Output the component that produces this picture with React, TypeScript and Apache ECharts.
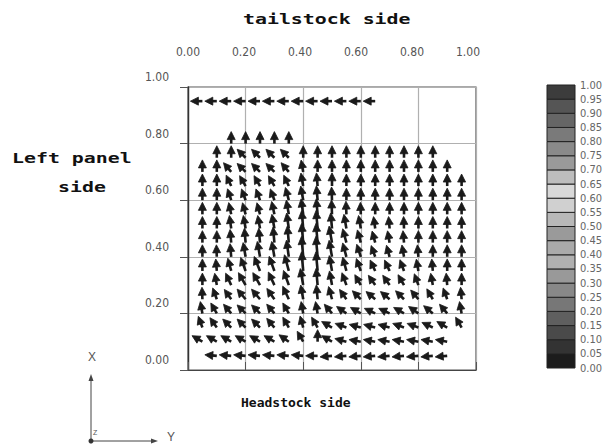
import React, { useEffect, useRef } from "react";
import * as echarts from "echarts";

// ---- data -----------------------------------------------------------
const colX = [0.05, 0.1, 0.15, 0.2, 0.25, 0.3, 0.35, 0.4, 0.45, 0.5, 0.55, 0.6, 0.65, 0.7, 0.75, 0.8, 0.85, 0.9, 0.95];
const rowY = [0.95, 0.8, 0.75, 0.7, 0.65, 0.6, 0.55, 0.5, 0.45, 0.4, 0.35, 0.3, 0.25, 0.2, 0.15, 0.1, 0.05];
const N = null;
// direction of each vector in degrees (0 = +Y to the right, 90 = +X upward)
const angleRows: (number | null)[][] = [
  [180, 180, 180, 180, 180, 180, 180, 180, 180, 180, 180, 180, 180, N, N, N, N, N, N],
  [N, N, 90, 90, 90, 90, 90, N, N, N, N, N, N, N, N, N, N, N, N],
  [N, 90, 90, 135, 135, 135, 135, 90, 90, 90, 90, 90, 90, 90, 90, 90, 90, N, N],
  [90, 90, 130, 135, 135, 135, 130, 100, 90, 90, 90, 90, 90, 90, 90, 90, 90, 90, N],
  [90, 90, 115, 120, 120, 120, 115, 100, 95, 90, 90, 90, 90, 90, 90, 90, 90, 90, 90],
  [90, 90, 108, 110, 110, 110, 105, 100, 95, 92, 90, 90, 90, 90, 90, 90, 90, 90, 90],
  [90, 90, 102, 105, 105, 102, 100, 98, 95, 92, 92, 92, 90, 90, 90, 90, 90, 90, 90],
  [90, 90, 98, 100, 100, 100, 98, 95, 95, 95, 100, 100, 98, 95, 92, 90, 90, 90, 90],
  [90, 90, 95, 95, 95, 95, 95, 95, 95, 100, 105, 105, 105, 100, 95, 90, 90, 90, 90],
  [90, 92, 95, 100, 100, 100, 98, 95, 95, 100, 105, 108, 110, 105, 100, 95, 90, 90, 90],
  [90, 95, 105, 110, 112, 110, 105, 95, 95, 100, 105, 110, 115, 115, 110, 100, 95, 90, 90],
  [90, 100, 115, 120, 120, 115, 110, 100, 95, 100, 110, 120, 125, 125, 120, 110, 100, 95, 90],
  [92, 110, 125, 130, 130, 125, 115, 100, 95, 105, 125, 135, 140, 140, 135, 130, 120, 110, 95],
  [100, 120, 130, 135, 135, 130, 120, 100, 100, 130, 145, 150, 155, 155, 150, 145, 140, 130, 100],
  [110, 125, 135, 135, 135, 130, 120, 105, 120, 150, 160, 165, 165, 165, 160, 160, 155, 150, 120],
  [150, 150, 150, 150, 150, 150, 145, 120, 90, 150, 165, 170, 170, 170, 170, 170, 170, 170, N],
  [N, 175, 175, 175, 175, 175, 175, 175, 180, 185, 185, 185, 185, 185, 185, 185, 185, 185, N],
];
// relative speed of each vector
const speedRows: number[][] = [
  [1, 1, 1, 1, 1, 1, 1, 1, 1, 1, 1, 1, 1, 1, 1, 1, 1, 1, 1],
  [1, 1, 1, 1, 1, 1, 1, 1, 1, 1, 1, 1, 1, 1, 1, 1, 1, 1, 1],
  [1, 1, 1, 1, 1, 1, 1, 1, 1, 1, 1, 1, 1, 1, 1, 1, 1, 1, 1],
  [1, 1, 1, 1, 1, 1, 1, 1, 1, 1, 1, 1, 1, 1, 1, 1, 1, 1, 1],
  [1, 1, 1, 1, 1, 1, 1, 1.1, 1.1, 1.1, 1, 1, 1, 1, 1, 1, 1, 1, 1],
  [1, 1, 1, 1, 1, 1, 1.1, 1.2, 1.2, 1.1, 1, 1, 1, 1, 1, 1, 1, 1, 1],
  [1, 1, 1, 1, 1, 1.1, 1.2, 1.3, 1.3, 1.2, 1.1, 1, 1, 1, 1, 1, 1, 1, 1],
  [1, 1, 1.1, 1.1, 1.1, 1.2, 1.3, 1.5, 1.5, 1.3, 1.2, 1.1, 1, 1, 1, 1, 1, 1, 1],
  [1, 1, 1.1, 1.2, 1.2, 1.3, 1.4, 1.6, 1.6, 1.4, 1.2, 1.1, 1, 1, 1, 1, 1, 1, 1],
  [1, 1, 1.1, 1.2, 1.3, 1.3, 1.4, 1.7, 1.7, 1.4, 1.2, 1.1, 1, 1, 1, 1, 1, 1, 1],
  [1, 1, 1.1, 1.2, 1.3, 1.3, 1.4, 1.6, 1.6, 1.3, 1.2, 1.1, 1, 1, 1, 1, 1, 1, 1],
  [1, 1, 1.1, 1.2, 1.2, 1.2, 1.3, 1.4, 1.4, 1.2, 1.1, 1, 1, 1, 1, 1, 1, 1, 1],
  [1, 1, 1, 1.1, 1.1, 1.1, 1.2, 1.2, 1.2, 1.1, 1, 1, 1, 1, 1, 1, 1, 1, 1],
  [1, 1, 1, 1, 1, 1, 1, 1, 1, 1, 1, 1, 1, 1, 1, 1, 1, 1, 1],
  [1, 1, 1, 1, 1, 1, 1, 1, 1, 1, 1, 1, 1, 1, 1, 1, 1, 1, 1],
  [1, 1, 1, 1, 1, 1, 1, 1, 1, 1, 1, 1, 1, 1, 1, 1, 1, 1, 1],
  [1, 1, 1, 1, 1, 1, 1, 1, 1, 1, 1, 1, 1, 1, 1, 1, 1, 1, 1],
];
const axisTicks = [0, 0.2, 0.4, 0.6, 0.8, 1.0];
const scaleValues = [0, 0.05, 0.1, 0.15, 0.2, 0.25, 0.3, 0.35, 0.4, 0.45, 0.5, 0.55, 0.6, 0.65, 0.7, 0.75, 0.8, 0.85, 0.9, 0.95, 1.0];
// colour of each band of the scale, from 0.00-0.05 up to 0.95-1.00
const scaleColors = [
  "#1c1c1c", "#333333", "#4a4a4a", "#5f5f5f", "#777777", "#888888", "#999999", "#b0b0b0", "#aaaaaa", "#9a9a9a",
  "#b8b8b8", "#d0d0d0", "#d8d8d8", "#bdbdbd", "#9a9a9a", "#8a8a8a", "#7a7a7a", "#666666", "#555555", "#3c3c3c",
];
const titleTop = "tailstock side";
const titleBottom = "Headstock side";
const titleLeft1 = "Left panel";
const titleLeft2 = "side";

const monoFont = "'DejaVu Sans Mono', 'Liberation Mono', monospace";
const tickFont = "'Liberation Sans Narrow', 'DejaVu Sans Condensed', 'Liberation Sans', sans-serif";

export default function App() {
  const ref = useRef<HTMLDivElement>(null);
  useEffect(() => {
    if (!ref.current) return;
    const chart = echarts.init(ref.current, undefined, { renderer: "svg" });

    const vectors: number[][] = [];
    rowY.forEach((y, r) => {
      colX.forEach((x, c) => {
        const a = angleRows[r][c];
        if (a !== null && a !== undefined) vectors.push([x, y, a, speedRows[r][c]]);
      });
    });
    const bands = scaleColors.map((col, i) => [scaleValues[i], scaleValues[i + 1], i]);

    const arrowColor = "#1a1a1a";

    chart.setOption({
      animation: false,
      backgroundColor: "#ffffff",
      grid: [
        { left: 188, top: 87, width: 288, height: 283, show: true, borderColor: "#555", borderWidth: 1.2, backgroundColor: "transparent" },
        { left: 547, top: 85, width: 28, height: 283 },
      ],
      xAxis: [
        {
          gridIndex: 0, type: "value", position: "top", min: 0, max: 1, interval: 0.2,
          axisLine: { show: true, lineStyle: { color: "#444", width: 1.2 } },
          axisTick: { show: true, length: 8, lineStyle: { color: "#555" } },
          axisLabel: { show: false },
          splitLine: { show: true, lineStyle: { color: "#b0b0b0", width: 1.2 } },
        },
        {
          gridIndex: 0, type: "value", position: "top", min: 0, max: 1.0286, interval: 0.2,
          axisLine: { show: false }, axisTick: { show: false }, splitLine: { show: false },
          axisLabel: {
            show: true, customValues: axisTicks, margin: 29, color: "#555", fontSize: 12, fontFamily: tickFont,
            formatter: (v: number) => v.toFixed(2),
          },
        },
        { gridIndex: 1, type: "value", min: 0, max: 1, show: false },
      ],
      yAxis: [
        {
          gridIndex: 0, type: "value", min: 0, max: 1, interval: 0.2,
          axisLine: { show: true, lineStyle: { color: "#333", width: 1.4 } },
          axisTick: { show: true, length: 8, lineStyle: { color: "#555" } },
          axisLabel: {
            show: true, margin: 19, color: "#555", fontSize: 12, fontFamily: tickFont,
            verticalAlign: "bottom", padding: [0, 0, 4, 0],
            formatter: (v: number) => v.toFixed(2),
          },
          splitLine: { show: true, lineStyle: { color: "#b0b0b0", width: 1.2 } },
        },
        {
          gridIndex: 1, type: "value", min: 0, max: 1, interval: 0.05, position: "right",
          axisLine: { show: false }, axisTick: { show: false }, splitLine: { show: false },
          axisLabel: {
            show: true, margin: 5, color: "#666", fontSize: 11, fontFamily: tickFont, lineHeight: 11,
            formatter: (v: number) => v.toFixed(2),
          },
        },
      ],
      series: [
        {
          type: "custom",
          xAxisIndex: 0, yAxisIndex: 0,
          data: vectors,
          renderItem: (params: any, api: any) => {
            const x = api.value(0), y = api.value(1);
            const ang = (api.value(2) * Math.PI) / 180;
            const sp = api.value(3);
            const p = api.coord([x, y]);
            const L = 12 * sp;
            const dx = Math.cos(ang), dy = -Math.sin(ang);
            const tip = [p[0] + dx * L, p[1] + dy * L];
            const hl = 8, hw = 4;
            const base = [tip[0] - dx * hl, tip[1] - dy * hl];
            const nx = -dy, ny = dx;
            return {
              type: "group",
              children: [
                { type: "line", shape: { x1: p[0], y1: p[1], x2: base[0] + dx, y2: base[1] + dy }, style: { stroke: arrowColor, lineWidth: 2.6 } },
                {
                  type: "polygon",
                  shape: { points: [tip, [base[0] + nx * hw, base[1] + ny * hw], [base[0] - nx * hw, base[1] - ny * hw]] },
                  style: { fill: arrowColor, stroke: arrowColor, lineWidth: 0.8 },
                },
              ],
            };
          },
        },
        {
          type: "custom",
          xAxisIndex: 2, yAxisIndex: 1,
          data: bands,
          renderItem: (params: any, api: any) => {
            const lo = api.value(0), hi = api.value(1), i = api.value(2);
            const p0 = api.coord([0, hi]);
            const p1 = api.coord([1, lo]);
            return {
              type: "rect",
              shape: { x: p0[0], y: p0[1], width: p1[0] - p0[0], height: p1[1] - p0[1] },
              style: { fill: scaleColors[i], stroke: "#222", lineWidth: 1 },
            };
          },
        },
      ],
      graphic: [
        { type: "text", x: 243, y: 12, scaleX: 1.42, style: { text: titleTop, font: `bold 14px ${monoFont}`, fill: "#111" } },
        { type: "text", x: 241, y: 396, style: { text: titleBottom, font: `bold 13px ${monoFont}`, fill: "#111" } },
        { type: "text", x: 12, y: 151, scaleX: 1.42, style: { text: titleLeft1, font: `bold 14px ${monoFont}`, fill: "#111" } },
        { type: "text", x: 58, y: 180, scaleX: 1.42, style: { text: titleLeft2, font: `bold 14px ${monoFont}`, fill: "#111" } },
        // orientation sketch
        { type: "line", shape: { x1: 91, y1: 441, x2: 91, y2: 378 }, style: { stroke: "#444", lineWidth: 1 } },
        { type: "polygon", shape: { points: [[91, 374], [88.5, 381], [93.5, 381]] }, style: { fill: "#444" } },
        { type: "line", shape: { x1: 91, y1: 441, x2: 153, y2: 441 }, style: { stroke: "#444", lineWidth: 1 } },
        { type: "polygon", shape: { points: [[158, 441], [151, 438.5], [151, 443.5]] }, style: { fill: "#444" } },
        { type: "circle", shape: { cx: 91, cy: 441, r: 2.5 }, style: { fill: "#333" } },
        { type: "text", x: 88, y: 351, style: { text: "X", font: `12px 'Liberation Sans', sans-serif`, fill: "#555" } },
        { type: "text", x: 167, y: 431, style: { text: "Y", font: `12px 'Liberation Sans', sans-serif`, fill: "#555" } },
        { type: "text", x: 93, y: 429, style: { text: "Z", font: `7px 'Liberation Sans', sans-serif`, fill: "#555" } },
      ],
    });
    return () => chart.dispose();
  }, []);
  return <div ref={ref} style={{ position: "fixed", left: 0, top: 0, width: 606, height: 444 }} />;
}
